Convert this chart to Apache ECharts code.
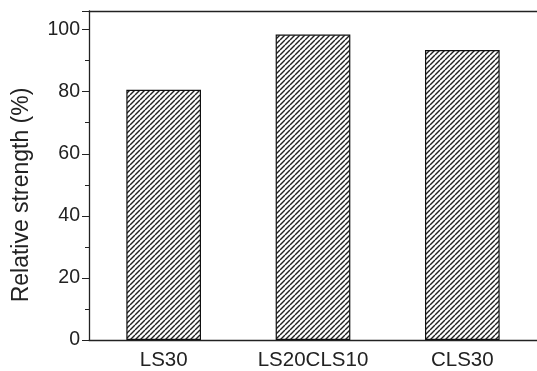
<!DOCTYPE html>
<html>
<head>
<meta charset="utf-8">
<script src="https://cdn.jsdelivr.net/npm/echarts@6/dist/echarts.min.js"></script>
<style>html,body{margin:0;padding:0;background:#fff;}#c{width:537px;height:371px;}</style>
</head>
<body>
<div id="c"></div>
<script>
var categories = ['LS30', 'LS20CLS10', 'CLS30'];
var strengthValues = [80.6, 98.4, 93.4];
var yTicks = [0, 20, 40, 60, 80, 100];
var yTitle = 'Relative strength (%)';

function hatch() {
  var s = 5;
  var c = document.createElement('canvas');
  c.width = s; c.height = s;
  var g = c.getContext('2d');
  g.fillStyle = '#fff';
  g.fillRect(0, 0, s, s);
  g.strokeStyle = '#222';
  g.lineWidth = 1.4;
  [-s, 0, s].forEach(function (k) {
    g.beginPath();
    g.moveTo(k, s);
    g.lineTo(k + s, 0);
    g.stroke();
  });
  return c;
}

var chart = echarts.init(document.getElementById('c'), null, {renderer: 'canvas'});
var axisCol = '#222';
var font = 'Liberation Sans';
chart.setOption({
  animation: false,
  grid: {left: 89, top: 11, width: 451.5, height: 330.7},
  graphic: [{
    type: 'text',
    x: 22,
    y: 195,
    rotation: Math.PI / 2,
    style: {
      text: yTitle,
      align: 'center',
      verticalAlign: 'middle',
      fill: '#222',
      fontSize: 23,
      fontFamily: font
    }
  }],
  xAxis: [{
    type: 'category',
    data: categories,
    axisLine: {lineStyle: {color: axisCol, width: 1.3}},
    axisTick: {alignWithLabel: true, length: 5, lineStyle: {color: axisCol}},
    axisLabel: {color: '#222', fontSize: 20.5, fontFamily: font, margin: 10}
  }, {
    type: 'category',
    position: 'top',
    data: categories,
    axisLine: {show: true, lineStyle: {color: axisCol, width: 1.3}},
    axisTick: {alignWithLabel: true, length: 3, inside: true, lineStyle: {color: axisCol}},
    axisLabel: {show: false}
  }],
  yAxis: {
    type: 'value',
    min: 0,
    max: 106,
    interval: 20,
    axisLine: {show: true, lineStyle: {color: axisCol, width: 1.3}},
    axisTick: {show: true, length: 7, lineStyle: {color: axisCol}},
    minorTick: {show: true, splitNumber: 2, length: 4, lineStyle: {color: axisCol}},
    splitLine: {show: false},
    axisLabel: {
      color: '#222', fontSize: 19.5, fontFamily: font, margin: 9,
      formatter: function (v) { return yTicks.indexOf(v) >= 0 ? String(v) : ''; }
    }
  },
  series: [{
    type: 'bar',
    data: strengthValues,
    barWidth: '50%',
    itemStyle: {
      color: {image: hatch(), repeat: 'repeat'},
      borderColor: '#111',
      borderWidth: 1.2
    }
  }]
});
</script>
</body>
</html>
